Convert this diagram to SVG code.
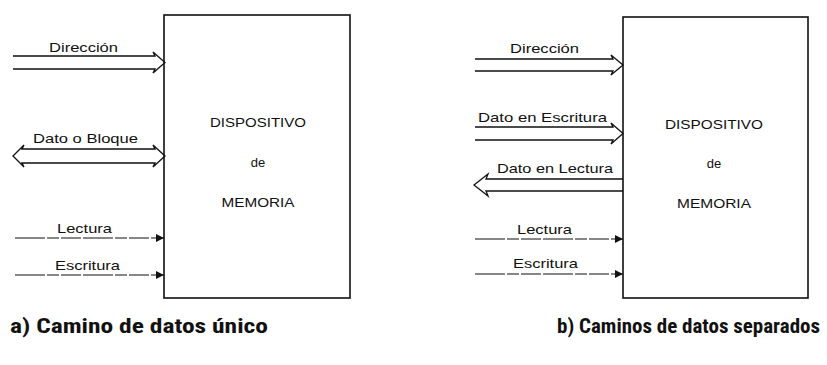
<svg xmlns="http://www.w3.org/2000/svg" width="827" height="365" viewBox="0 0 827 365">
<style>
.box{fill:none;stroke:#111;stroke-width:1.6}
.bus{fill:none;stroke:#111;stroke-width:1.3;stroke-linejoin:miter}
.sig{fill:none;stroke:#111;stroke-width:1.2;stroke-dasharray:30 2 12 2 20 2}
.lbl{font-family:"Liberation Sans",Arial,sans-serif;font-size:13px;fill:#111}
.btx{font-family:"Liberation Sans",Arial,sans-serif;font-size:13px;fill:#111;text-anchor:middle}
.cap{font-family:"Liberation Sans Narrow","Roboto Condensed","Liberation Sans",Arial,sans-serif;font-size:21px;fill:#111;font-weight:bold}
</style>
<defs>
<marker id="tri" viewBox="0 0 10 10" refX="10" refY="5" markerWidth="8" markerHeight="8" markerUnits="userSpaceOnUse" orient="auto">
<path d="M0,0 L10,5 L0,10 Z" fill="#111"/>
</marker>
</defs>
<rect width="827" height="365" fill="#fff"/>
<g id="node-a">
<rect class="box" x="164" y="15" width="186" height="283"/>
<text class="btx" x="258" y="127" textLength="96" lengthAdjust="spacingAndGlyphs">DISPOSITIVO</text>
<text class="btx" x="258" y="167">de</text>
<text class="btx" x="258" y="207" textLength="73" lengthAdjust="spacingAndGlyphs">MEMORIA</text>
</g>
<g id="node-b">
<rect class="box" x="623" y="17" width="185" height="281"/>
<text class="btx" x="714" y="129" textLength="98" lengthAdjust="spacingAndGlyphs">DISPOSITIVO</text>
<text class="btx" x="714" y="168">de</text>
<text class="btx" x="714" y="208" textLength="74" lengthAdjust="spacingAndGlyphs">MEMORIA</text>
</g>
<g id="connectors">
<path class="bus" d="M13,56 L155,56 L153,52 L165,62.5 L153,73 L155,69 L13,69"/>
<path class="bus" d="M22,149 L155,149 L153,145 L165,156 L153,167 L155,163 L22,163 L24,167 L13,156 L24,145 Z"/>
<path class="sig" d="M15,238 L164,238" marker-end="url(#tri)"/>
<path class="sig" d="M15,275 L164,275" marker-end="url(#tri)"/>
<path class="bus" d="M475,59 L613,59 L611,55 L623,65 L611,75 L613,71 L475,71"/>
<path class="bus" d="M475,127 L613,127 L611,123 L623,133.5 L611,144 L613,140 L475,140"/>
<path class="bus" d="M623,179 L486,179 L488,174 L474,185 L488,196 L486,191 L623,191"/>
<path class="sig" d="M475,239 L623,239" marker-end="url(#tri)"/>
<path class="sig" d="M475,274 L623,274" marker-end="url(#tri)"/>
</g>
<g id="labels">
<text class="lbl" x="49" y="52" textLength="69" lengthAdjust="spacingAndGlyphs">Dirección</text>
<text class="lbl" x="33" y="143" textLength="105" lengthAdjust="spacingAndGlyphs">Dato o Bloque</text>
<text class="lbl" x="57" y="233" textLength="55" lengthAdjust="spacingAndGlyphs">Lectura</text>
<text class="lbl" x="55" y="270" textLength="65" lengthAdjust="spacingAndGlyphs">Escritura</text>
<text class="lbl" x="510" y="53" textLength="69" lengthAdjust="spacingAndGlyphs">Dirección</text>
<text class="lbl" x="478" y="122" textLength="129" lengthAdjust="spacingAndGlyphs">Dato en Escritura</text>
<text class="lbl" x="497" y="173" textLength="116" lengthAdjust="spacingAndGlyphs">Dato en Lectura</text>
<text class="lbl" x="517" y="234" textLength="55" lengthAdjust="spacingAndGlyphs">Lectura</text>
<text class="lbl" x="513" y="268" textLength="65" lengthAdjust="spacingAndGlyphs">Escritura</text>
<text class="cap" x="10" y="333" textLength="258" lengthAdjust="spacingAndGlyphs">a)  Camino de datos único</text>
<text class="cap" x="557" y="333" textLength="263" lengthAdjust="spacingAndGlyphs">b)  Caminos de datos separados</text>
</g>
</svg>
